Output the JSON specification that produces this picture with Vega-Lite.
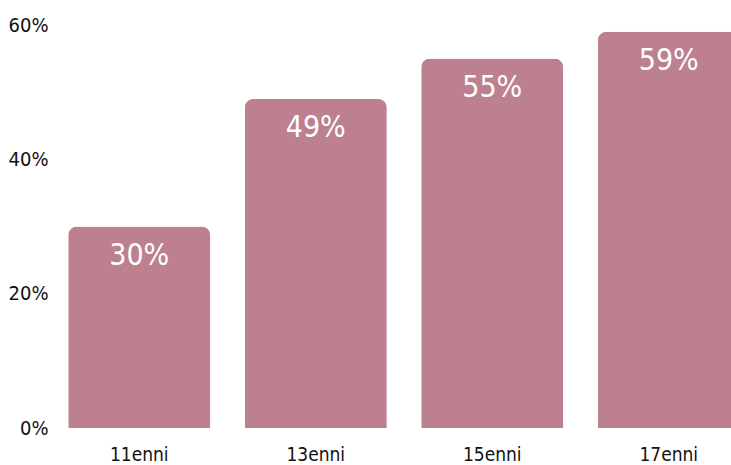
{
  "$schema": "https://vega.github.io/schema/vega-lite/v6.json",
  "autosize": {"type": "none"},
  "padding": {"left": 51, "top": 25, "right": 0, "bottom": 37},
  "width": 706,
  "height": 403,
  "background": "white",
  "config": {
    "view": {"stroke": null},
    "font": "DejaVu Sans Condensed"
  },
  "data": {
    "values": [
      {"eta": "11enni", "valore": 0.30},
      {"eta": "13enni", "valore": 0.49},
      {"eta": "15enni", "valore": 0.55},
      {"eta": "17enni", "valore": 0.59}
    ]
  },
  "encoding": {
    "x": {
      "field": "eta",
      "type": "nominal",
      "sort": null,
      "scale": {"paddingInner": 0.195, "paddingOuter": 0.0975},
      "axis": {
        "title": null,
        "labelAngle": 0,
        "ticks": false,
        "domain": false,
        "labelFont": "DejaVu Sans Condensed",
        "labelFontSize": 19,
        "labelColor": "#111111",
        "labelPadding": 17,
        "labelBaseline": "top"
      }
    },
    "y": {
      "field": "valore",
      "type": "quantitative",
      "scale": {"domain": [0, 0.6], "nice": false},
      "axis": {
        "title": null,
        "values": [0, 0.2, 0.4, 0.6],
        "format": ".0%",
        "grid": false,
        "ticks": false,
        "domain": false,
        "labelFont": "DejaVu Sans Condensed",
        "labelFontSize": 20,
        "labelColor": "#111111",
        "labelPadding": 3
      }
    }
  },
  "layer": [
    {
      "mark": {
        "type": "bar",
        "color": "#BD808F",
        "cornerRadiusTopLeft": 9,
        "cornerRadiusTopRight": 9
      }
    },
    {
      "mark": {
        "type": "text",
        "color": "white",
        "fontSize": 30,
        "baseline": "middle",
        "dy": 29,
        "font": "DejaVu Sans Condensed"
      },
      "encoding": {
        "text": {"field": "valore", "type": "quantitative", "format": ".0%"},
        "y": {"field": "valore", "type": "quantitative"}
      }
    }
  ]
}
